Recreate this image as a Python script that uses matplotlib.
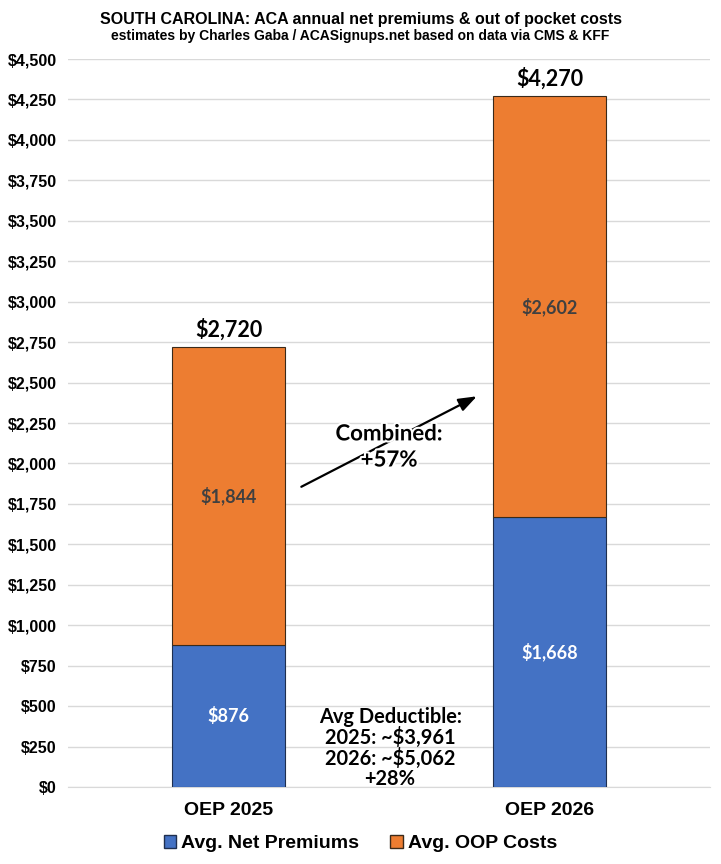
import matplotlib
matplotlib.use("Agg")
import matplotlib.pyplot as plt
import matplotlib.patheffects as pe
from matplotlib.ticker import FuncFormatter, MultipleLocator
from matplotlib.patches import Patch

categories = ["OEP 2025", "OEP 2026"]
net_premiums = [876, 1668]
oop_costs = [1844, 2602]
totals = [2720, 4270]

blue = "#4472C4"
orange = "#ED7D31"

fig = plt.figure(figsize=(7.21, 8.64), dpi=100)
ax = fig.add_axes([0.0943, 0.0891, 0.8907, 0.8426])

x = list(range(len(categories)))
w = 0.353
ax.bar(x, net_premiums, w, color=blue, edgecolor="#1F2F4F", linewidth=0.8, zorder=3)
ax.bar(x, oop_costs, w, bottom=net_premiums, color=orange, edgecolor="#3A2A1A", linewidth=0.8, zorder=3)

lab_font = ["Lato", "DejaVu Sans"]
for i in x:
    ax.text(i, net_premiums[i] / 2, "${:,}".format(net_premiums[i]), ha="center", va="center",
            color="white", fontsize=13, fontweight="bold", family=lab_font, zorder=4)
    ax.text(i, net_premiums[i] + oop_costs[i] / 2, "${:,}".format(oop_costs[i]), ha="center", va="center",
            color="#404040", fontsize=13, fontweight="bold", family=lab_font, zorder=4)
    ax.text(i, totals[i] + 40, "${:,}".format(totals[i]), ha="center", va="bottom",
            color="black", fontsize=15.5, fontweight="bold", family=lab_font, zorder=4)

ax.set_xlim(-0.5, 1.5)
ax.set_ylim(0, 4500)
ax.yaxis.set_major_locator(MultipleLocator(250))
ax.yaxis.set_major_formatter(FuncFormatter(lambda v, p: "${:,.0f}".format(v)))
ax.grid(axis="y", color="#D9D9D9", linewidth=1, zorder=0)
ax.set_axisbelow(True)
for s in ["top", "right", "left"]:
    ax.spines[s].set_visible(False)
ax.spines["bottom"].set_color("#D9D9D9")
ax.tick_params(axis="y", length=0, pad=8)
ax.tick_params(axis="x", length=0, pad=11)
ax.set_xticks(x)
ax.set_xticklabels(categories)
for t in ax.get_yticklabels():
    t.set_fontsize(11.5)
    t.set_fontweight("bold")
    t.set_family("Liberation Sans")
for t in ax.get_xticklabels():
    t.set_fontsize(14)
    t.set_fontweight("bold")
    t.set_family("Liberation Sans")

ax.annotate("", xy=(0.781, 2423), xytext=(0.219, 1848),
            arrowprops=dict(arrowstyle="-|>,head_length=1.1,head_width=0.4", color="black", lw=1.6),
            zorder=5)
halo = [pe.withStroke(linewidth=3, foreground="white")]
ax.text(0.5, 2102, "Combined:\n+57%", ha="center", va="center", fontsize=16,
        fontweight="bold", family=lab_font, linespacing=1.3, zorder=6, path_effects=halo)
ax.text(0.503, 241, "Avg Deductible:\n2025: ~$3,961\n2026: ~$5,062\n+28%", ha="center", va="center",
        fontsize=14.4, fontweight="bold", family=lab_font, linespacing=0.98, zorder=6)

fig.text(0.5, 0.978, "SOUTH CAROLINA: ACA annual net premiums & out of pocket costs",
         ha="center", va="center", fontsize=11.5, fontweight="bold", family="Liberation Sans")
fig.text(0.5, 0.958, "estimates by Charles Gaba / ACASignups.net based on data via CMS & KFF",
         ha="center", va="center", fontsize=10, fontweight="bold", family="Liberation Sans")

handles = [Patch(facecolor=blue, edgecolor="#1F2F4F"), Patch(facecolor=orange, edgecolor="#3A2A1A")]
fig.legend(handles, ["Avg. Net Premiums", "Avg. OOP Costs"], loc="center", bbox_to_anchor=(0.5, 0.024),
           ncol=2, frameon=False, prop={"family": "Liberation Sans", "weight": "bold", "size": 14},
           handlelength=0.65, handleheight=0.65, handletextpad=0.25, columnspacing=1.6)

fig.savefig("out.png", dpi=100)
